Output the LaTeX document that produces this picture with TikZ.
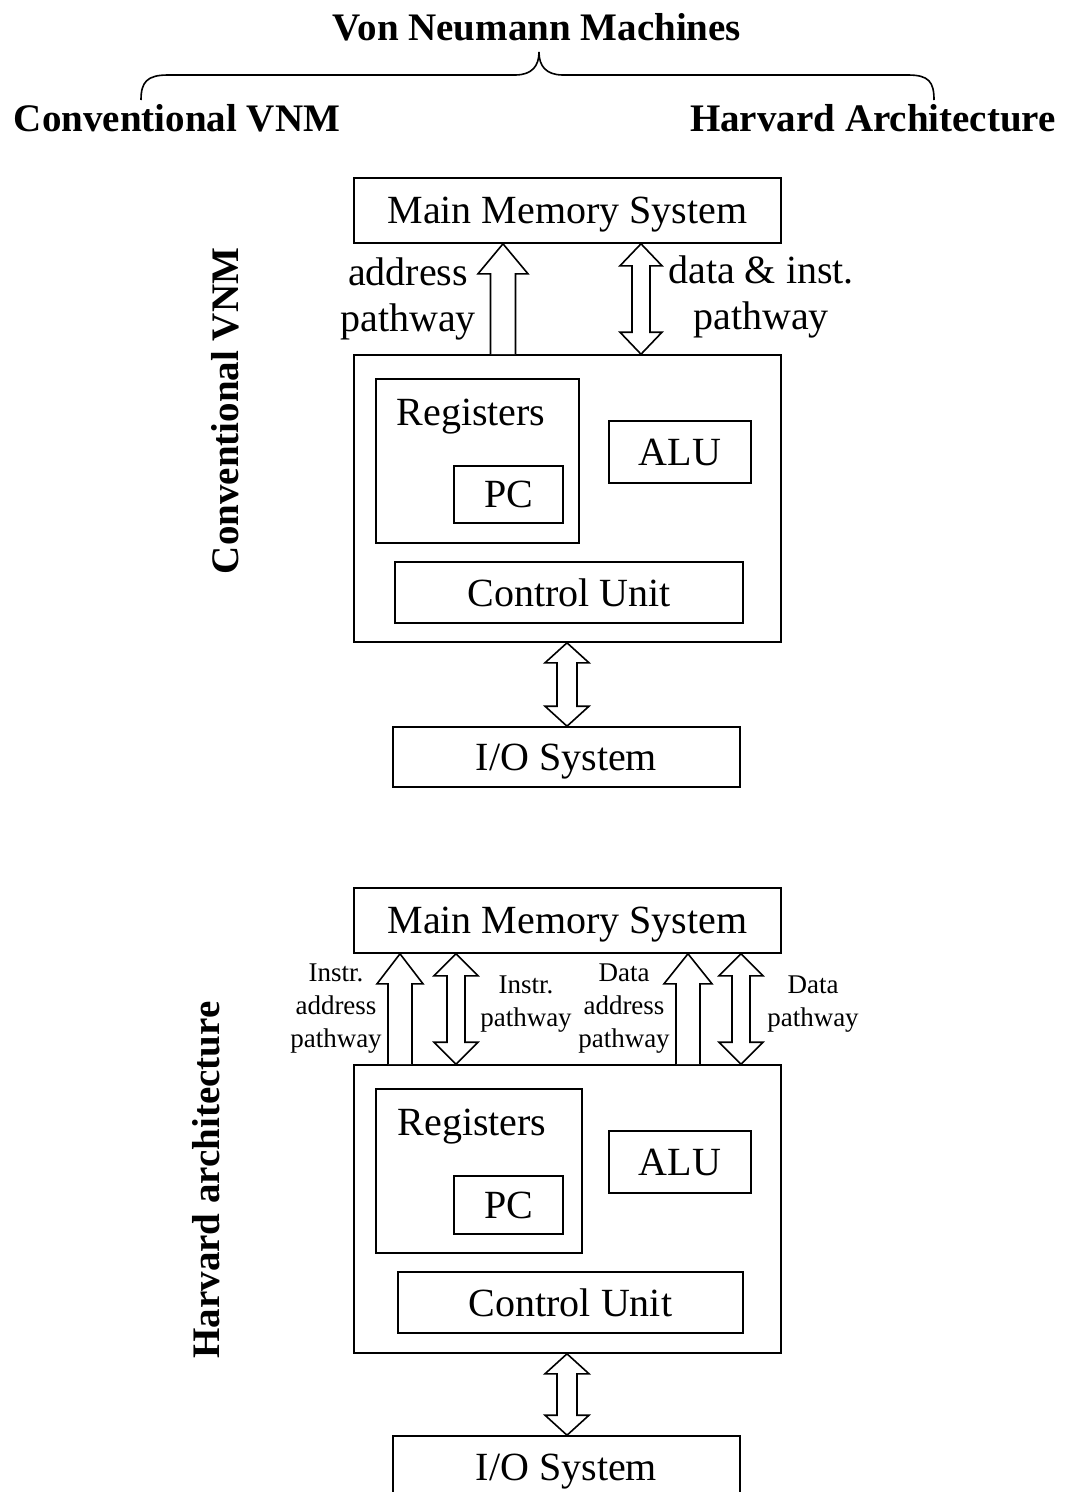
\documentclass[tikz,border=0pt]{standalone}
\usepackage{fontspec}
\setmainfont{Liberation Serif}
\usetikzlibrary{calc}
\newcommand\fatup[6]{% #1 x, #2 top node, #3 bottom node, #4 shaft half, #5 head half, #6 head length
  \path[fat] let \p1=(#1,0), \p2=(#2.south), \p3=(#3.north) in
    (\x1-#4pt,\y3) -- (\x1-#4pt,\y2-#6pt) -- (\x1-#5pt,\y2-#6pt) -- (\x1,\y2)
    -- (\x1+#5pt,\y2-#6pt) -- (\x1+#4pt,\y2-#6pt) -- (\x1+#4pt,\y3);}
\newcommand\fatboth[6]{%
  \path[fat] let \p1=(#1,0), \p2=(#2.south), \p3=(#3.north) in
    (\x1,\y2) -- (\x1+#5pt,\y2-#6pt) -- (\x1+#4pt,\y2-#6pt) -- (\x1+#4pt,\y3+#6pt)
    -- (\x1+#5pt,\y3+#6pt) -- (\x1,\y3) -- (\x1-#5pt,\y3+#6pt) -- (\x1-#4pt,\y3+#6pt)
    -- (\x1-#4pt,\y2-#6pt) -- (\x1-#5pt,\y2-#6pt) -- cycle;}
\begin{document}
\begin{tikzpicture}[x=1pt,y=-1pt,
  box/.style={draw, line width=1.6pt, inner sep=0pt, text depth=0pt, font=\fontsize{40}{46}\selectfont},
  big/.style={font=\fontsize{40}{46}\selectfont, inner sep=0pt},
  head/.style={font=\bfseries\fontsize{39}{46}\selectfont, inner sep=0pt},
  small/.style={font=\fontsize{27}{33}\selectfont, inner sep=0pt, align=center},
  lbl/.style={font=\fontsize{40}{46}\selectfont, inner sep=0pt, align=center},
  fat/.style={draw, fill=white, line width=1.6pt, line join=miter}]
\useasboundingbox (0,0) rectangle (1067,1492);
% heading
\node[head] (title) at (537,27) {Von Neumann Machines};
\node[head] (conv) at (177,118) {Conventional VNM};
\node[head] (harv) at (873,118) {Harvard Architecture};
\draw[line width=1.6pt] (141,100) .. controls (141,82) and (147,75) .. (168,75) -- (515,75)
  .. controls (532,75) and (539,66) .. (539,52) .. controls (539,66) and (546,75) .. (563,75)
  -- (908,75) .. controls (929,75) and (934,82) .. (934,100);
% upper diagram
\node[head, rotate=90] (lab1) at (225,411) {Conventional VNM};
\node[box, minimum width=427pt, minimum height=65pt] (mm1) at (567.5,210.5) {Main Memory System};
\node[box, minimum width=427pt, minimum height=287pt] (cpu1) at (567.5,498.5) {};
\node[box, minimum width=203pt, minimum height=164pt] (reg1) at (477.5,461) {};
\node[big] (regt1) at (471,417) {Registers};
\node[box, minimum width=109pt, minimum height=57pt] (pc1) at (508.5,494.5) {PC};
\node[box, minimum width=142pt, minimum height=62pt] (alu1) at (680,452) {ALU};
\node[box, minimum width=348pt, minimum height=61pt] (cu1) at (569,592.5) {Control Unit};
\node[box, minimum width=347pt, minimum height=60pt] (io1) at (566.5,757) {I/O System};
\node[lbl] (addr1) at (408,299) {address\\pathway};
\node[lbl] (data1) at (761,297) {data \& inst.\\pathway};
\fatup{503}{mm1}{cpu1}{12.5}{25}{30}
\fatboth{641}{mm1}{cpu1}{9}{21}{22}
\fatboth{567}{cpu1}{io1}{10}{22}{20}
% lower diagram
\node[head, rotate=90] (lab2) at (206,1180) {Harvard architecture};
\node[box, minimum width=427pt, minimum height=65pt] (mm2) at (567.5,920.5) {Main Memory System};
\node[box, minimum width=427pt, minimum height=288pt] (cpu2) at (567.5,1209) {};
\node[box, minimum width=206pt, minimum height=164pt] (reg2) at (479,1171) {};
\node[big] (regt2) at (472,1127) {Registers};
\node[box, minimum width=109pt, minimum height=58pt] (pc2) at (508.5,1205) {PC};
\node[box, minimum width=142pt, minimum height=62pt] (alu2) at (680,1162) {ALU};
\node[box, minimum width=345pt, minimum height=61pt] (cu2) at (570.5,1302.5) {Control Unit};
\node[box, minimum width=347pt, minimum height=62pt] (io2) at (566.5,1467) {I/O System};
\node[small] (ia) at (336,1009) {Instr.\\address\\pathway};
\node[small] (ip) at (526,1004) {Instr.\\pathway};
\node[small] (da) at (624,1009) {Data\\address\\pathway};
\node[small] (dp) at (813,1004) {Data\\pathway};
\fatup{400}{mm2}{cpu2}{12}{23}{30}
\fatboth{456}{mm2}{cpu2}{9}{22}{22}
\fatup{688}{mm2}{cpu2}{12}{24}{30}
\fatboth{741}{mm2}{cpu2}{9}{22}{22}
\fatboth{567}{cpu2}{io2}{10}{22}{20}
\end{tikzpicture}
\end{document}
